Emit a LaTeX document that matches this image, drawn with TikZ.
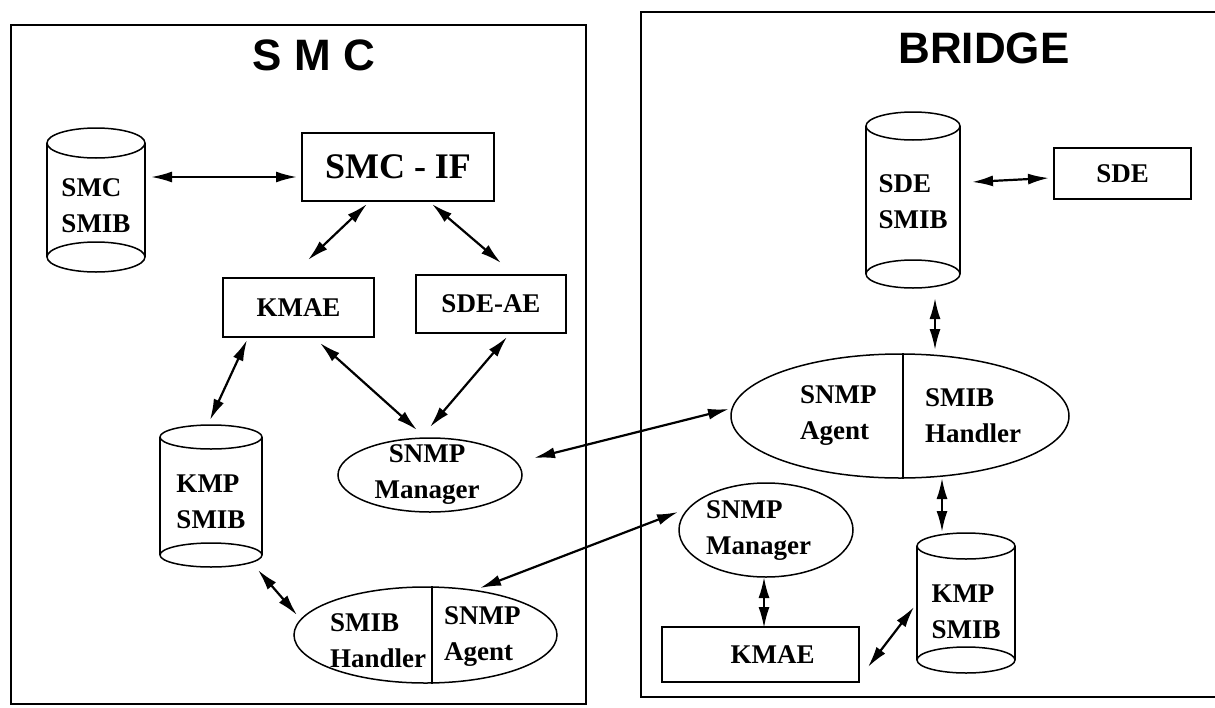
\documentclass[tikz,border=0pt]{standalone}
\usepackage{fontspec}
\setmainfont{Liberation Serif}
\newfontfamily\titlefont{Liberation Sans}
\usetikzlibrary{arrows.meta,shapes.geometric}
\tikzset{
  shp/.style={draw, line width=1.5pt},
  boxnode/.style={shp, rectangle, inner sep=0pt, font=\fontsize{27}{36}\selectfont\bfseries},
  ellnode/.style={shp, ellipse, inner sep=0pt},
  lbl/.style={inner sep=0pt, font=\fontsize{27}{36}\selectfont\bfseries},
  arr/.style={line width=2.2pt, {Latex[length=21pt,width=11pt]}-{Latex[length=21pt,width=11pt]}},
  ttl/.style={font=\fontsize{44}{50}\selectfont\titlefont\bfseries, inner sep=0pt},
  frame/.style={draw, line width=1.6pt},
}
% #1 name, #2 cx, #3 top, #4 bottom, #5 half width, #6 ry, #7 text y, #8 text
\newcommand\dbcyl[8]{%
  \draw[shp] (#2,#3+#6) ellipse [x radius=#5pt, y radius=#6pt];
  \draw[shp] (#2,#4-#6) ellipse [x radius=#5pt, y radius=#6pt];
  \draw[shp] (#2-#5,#3+#6) -- (#2-#5,#4-#6) (#2+#5,#3+#6) -- (#2+#5,#4-#6);
  \node[inner sep=0pt, minimum width={2*#5}, minimum height={#4-#3}] (#1) at (#2,{(#3+#4)/2}) {};
  \node[lbl, align=left] (#1txt) at (#2,#7) {#8};
}
\begin{document}
\begin{tikzpicture}[x=1pt,y=-1pt]
\useasboundingbox (0,0) rectangle (1215,707);

% frames
\draw[frame] (11,25) rectangle (586,704);
\draw[frame] (1215,12) -- (641,12) -- (641,697) -- (1215,697);
\node[ttl] (smctitle) at (314,55) {S M C};
\node[ttl] (bridgetitle) at (984,48) {BRIDGE};

% ---------- SMC side ----------
\dbcyl{smcsmib}{96}{128}{272}{49}{15}{206}{SMC\\SMIB}
\node[boxnode, minimum width=192, minimum height=68, font=\fontsize{36}{40}\selectfont\bfseries] (smcif) at (398,167) {SMC - IF};
\node[boxnode, minimum width=151, minimum height=59] (kmaeA) at (298.5,307.5) {KMAE};
\node[boxnode, minimum width=150, minimum height=58] (sdeae) at (491,304) {SDE-AE};
\dbcyl{kmpA}{211}{425}{567}{51}{12}{502}{KMP\\SMIB}
\node[ellnode, minimum width=184, minimum height=74] (mgrA) at (430,475) {};
\node[lbl, align=center] (mgrAtxt) at (427,475) {SNMP\\Manager};
\node[ellnode, minimum width=263, minimum height=96] (agentA) at (425.5,635) {};
\draw[shp] ([xshift=6.5pt]agentA.north) -- ([xshift=6.5pt]agentA.south);
\node[lbl, align=left, anchor=west] (agentAl) at (330,641) {SMIB\\Handler};
\node[lbl, align=left, anchor=west] (agentAr) at (444,637) {SNMP\\Agent};

% ---------- BRIDGE side ----------
\dbcyl{sdesmib}{913}{112}{288}{47}{14}{202}{SDE\\SMIB}
\node[boxnode, minimum width=137, minimum height=51] (sde) at (1122.5,173.5) {SDE};
\node[ellnode, minimum width=338, minimum height=124] (agentB) at (900,416) {};
\draw[shp] ([xshift=3pt]agentB.north) -- ([xshift=3pt]agentB.south);
\node[lbl, align=left, anchor=west] (agentBl) at (800,416) {SNMP\\Agent};
\node[lbl, align=left, anchor=west] (agentBr) at (925,416) {SMIB\\Handler};
\node[ellnode, minimum width=174, minimum height=94] (mgrB) at (766,530) {};
\node[lbl, align=left, anchor=west] (mgrBtxt) at (706,531) {SNMP\\Manager};
\node[boxnode, minimum width=197, minimum height=55] (kmaeB) at (760.5,654.5) {\hspace*{24pt}KMAE};
\dbcyl{kmpB}{966}{533}{673}{49}{13}{612}{KMP\\SMIB}

% ---------- connectors ----------
\draw[arr] ([shift={(55,-23)}]smcsmib.center) -- ([shift={(-101,10)}]smcif.center);
\draw[arr] ([shift={(-31,37)}]smcif.center) -- ([shift={(9.5,-47.5)}]kmaeA.center);
\draw[arr] ([shift={(34,37)}]smcif.center) -- ([shift={(10,-41)}]sdeae.center);
\draw[arr] ([shift={(-51.5,32.5)}]kmaeA.center) -- ([shift={(-1,-76)}]kmpA.center);
\draw[arr] ([shift={(21.5,35.5)}]kmaeA.center) -- ([shift={(-13,-45)}]mgrA.center);
\draw[arr] ([shift={(16,33)}]sdeae.center) -- ([shift={(0,-48)}]mgrA.center);
\draw[arr] ([shift={(47,74)}]kmpA.center) -- ([shift={(-128.5,-20)}]agentA.center);
\draw[arr] ([shift={(104,-17)}]mgrA.center) -- ([shift={(-171,-7)}]agentB.center);
\draw[arr] ([shift={(54.5,-47)}]agentA.center) -- ([shift={(-88,-18)}]mgrB.center);
\draw[arr] ([shift={(59,-18)}]sdesmib.center) -- ([shift={(-73.5,4.5)}]sde.center);
\draw[arr] ([shift={(22,98)}]sdesmib.center) -- ([shift={(35,-66)}]agentB.center);
\draw[arr] ([shift={(42,62)}]agentB.center) -- ([shift={(-24,-71)}]kmpB.center);
\draw[arr] ([shift={(-2,47)}]mgrB.center) -- ([shift={(3.5,-26.5)}]kmaeB.center);
\draw[arr] ([shift={(107.5,12.5)}]kmaeB.center) -- ([shift={(-52,4)}]kmpB.center);
\end{tikzpicture}
\end{document}
